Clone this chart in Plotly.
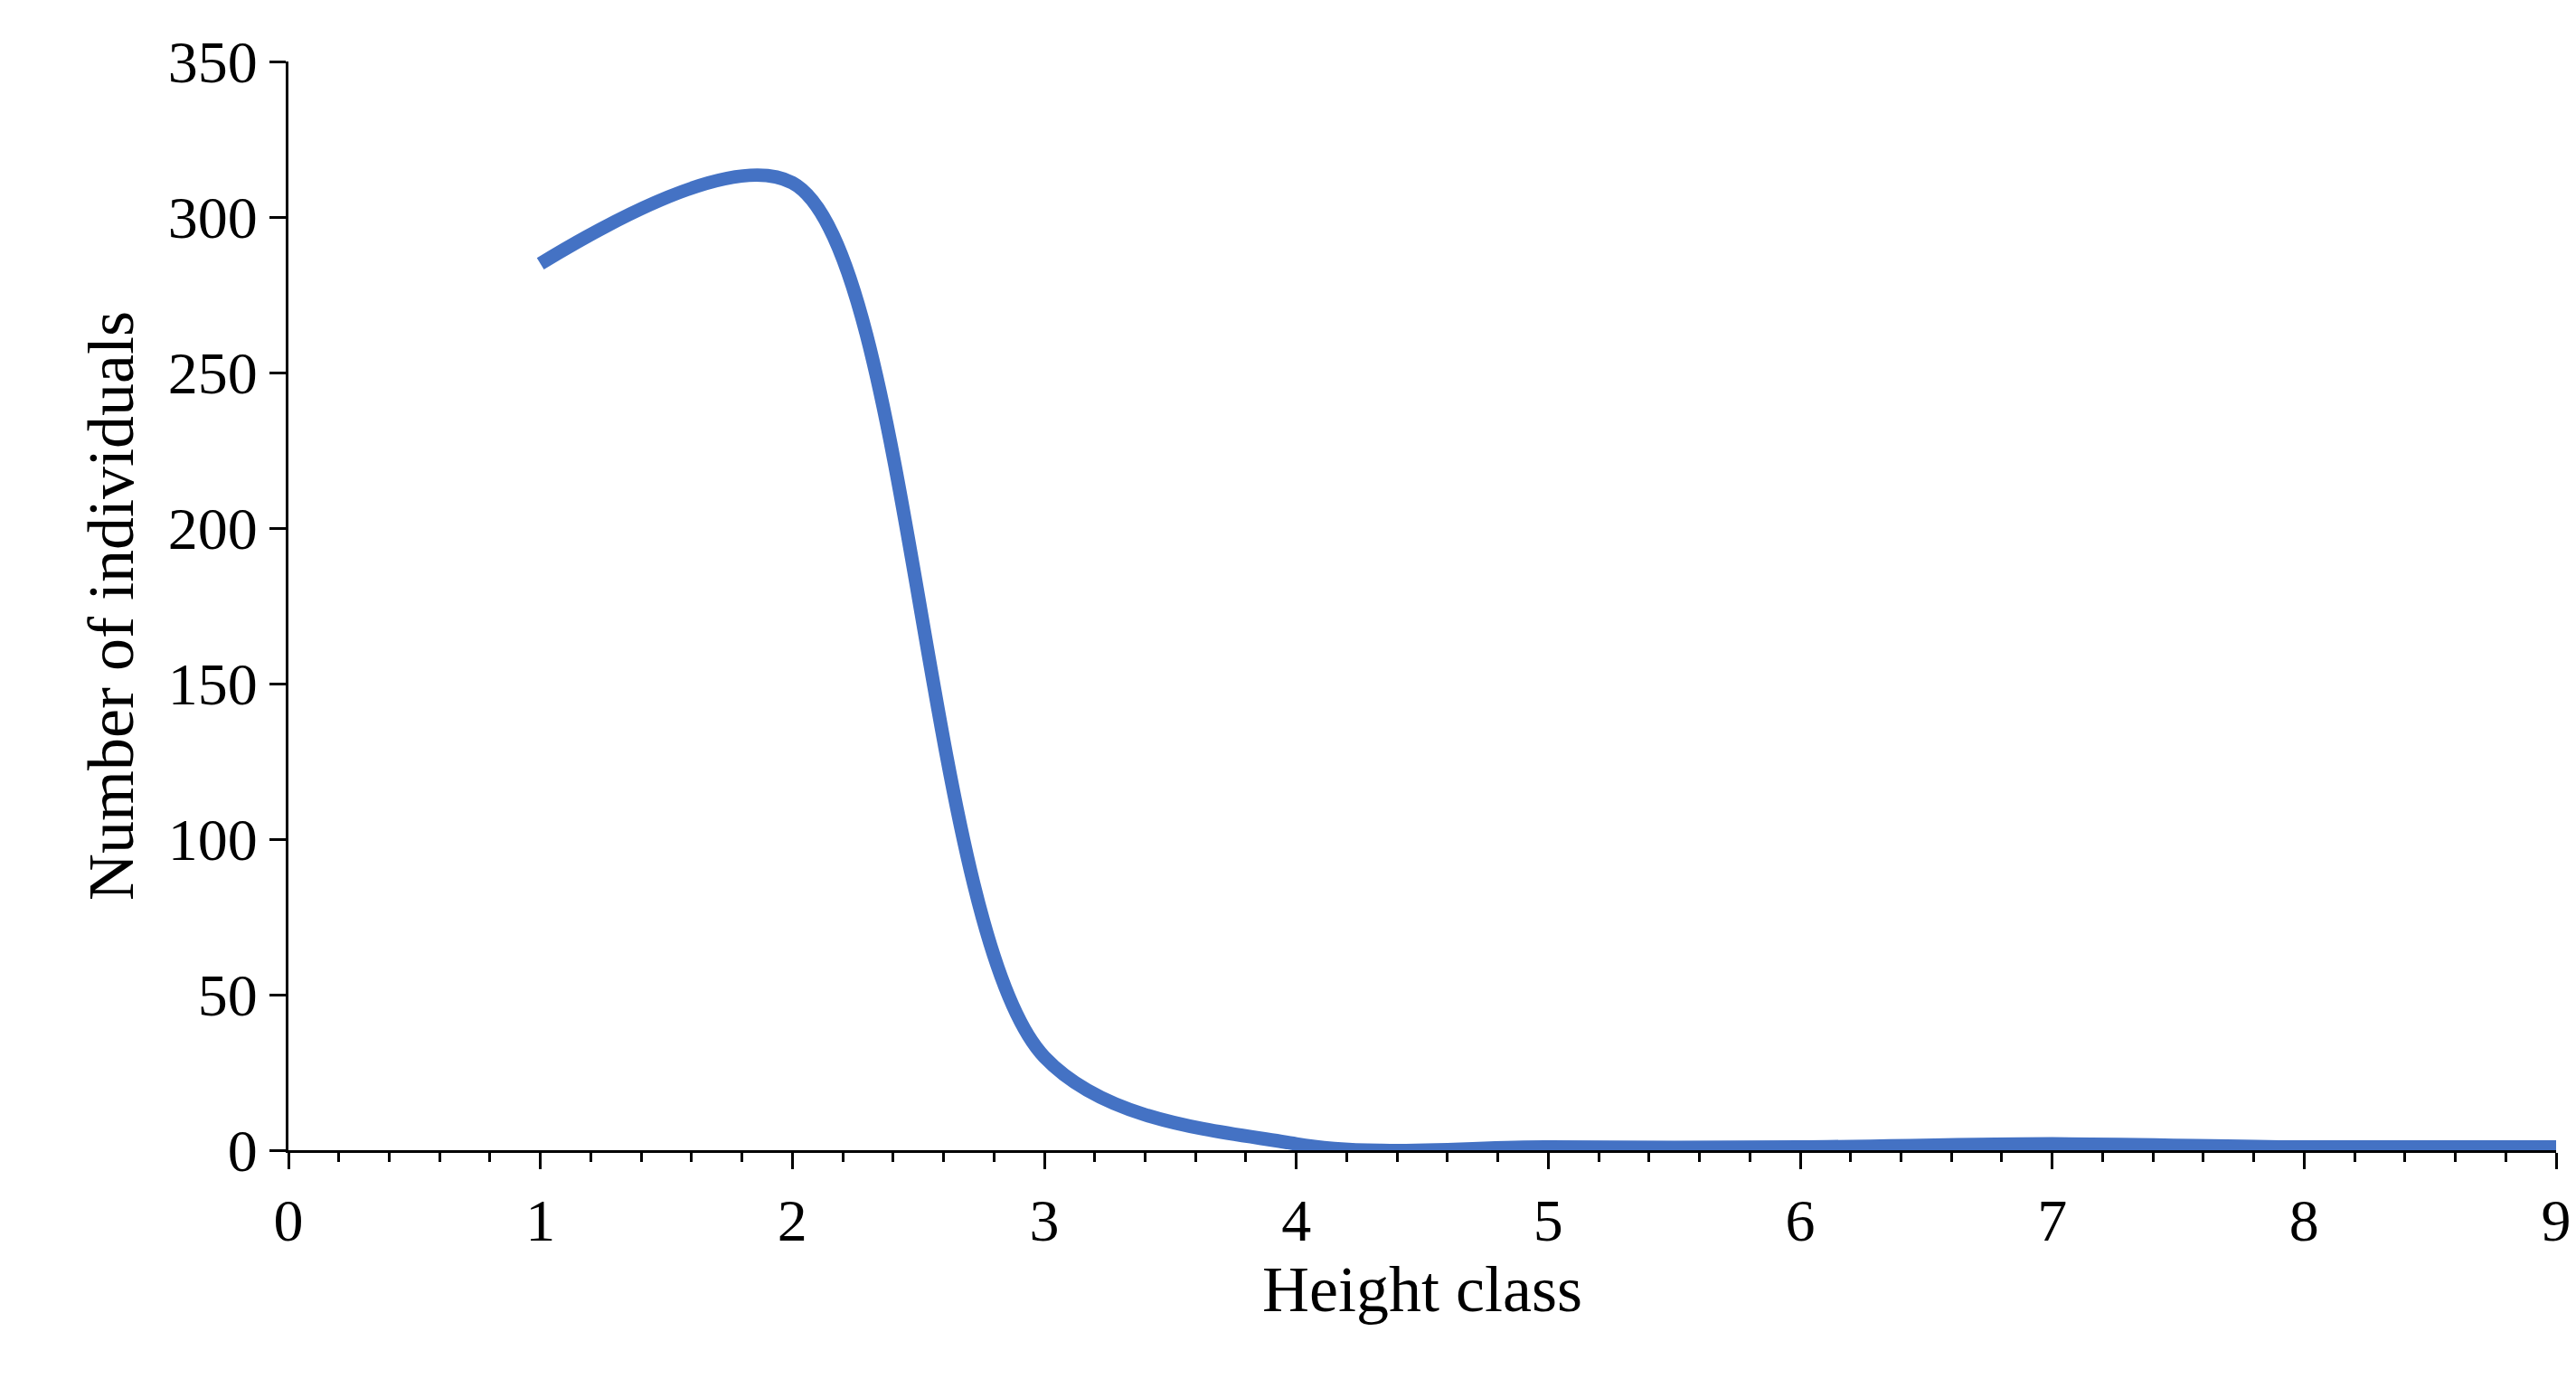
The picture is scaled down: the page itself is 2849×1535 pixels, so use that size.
import plotly.graph_objects as go

height_class = [1, 2, 3, 4, 5, 6, 7, 8, 9]
individuals = [285, 311, 30, 2, 1, 1, 2, 1, 1]

fig = go.Figure(go.Scatter(
    x=height_class, y=individuals, mode="lines",
    line=dict(color="#4472C4", width=15, shape="spline", smoothing=0.9),
))

fig.update_layout(
    width=2849, height=1535,
    plot_bgcolor="white", paper_bgcolor="white",
    margin=dict(l=311, r=30, t=60, b=271),
    font=dict(family="Liberation Serif", size=66, color="black"),
    showlegend=False,
)
fig.update_xaxes(
    range=[0, 9], dtick=1, showgrid=False, zeroline=False,
    showline=True, linecolor="black", linewidth=3,
    ticks="outside", ticklen=18, tickwidth=3, tickcolor="black",
    minor=dict(dtick=0.2, ticks="outside", ticklen=10, tickwidth=3, tickcolor="black"),
    title=dict(text="Height class", font=dict(size=72)),
)
fig.update_yaxes(
    range=[0, 350], dtick=50, showgrid=False, zeroline=False,
    showline=True, linecolor="black", linewidth=3,
    ticks="outside", ticklen=18, tickwidth=3, tickcolor="black",
    title=dict(text="Number of individuals", font=dict(size=72)),
)

fig.write_html("out.html")
